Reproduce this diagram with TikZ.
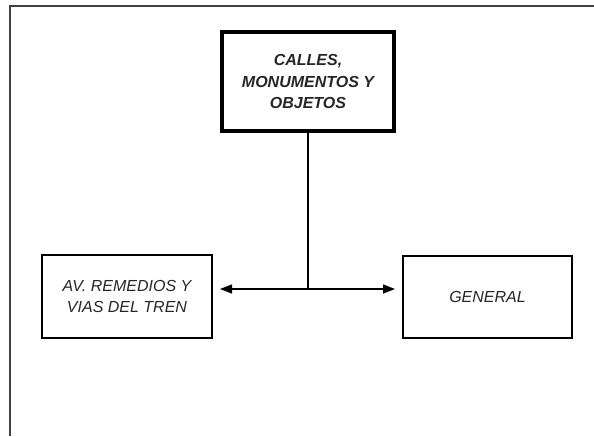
\documentclass[tikz,border=0pt]{standalone}
\usepackage{fontspec}
\setmainfont{Liberation Sans}
\usetikzlibrary{positioning,arrows.meta,calc}
\tikzset{%
  x=0.5pt, y=0.5pt,
  box/.style={draw, rectangle, align=center, text=black!85, font=\fontsize{8}{10.9}\selectfont\itshape, inner sep=0pt},
  mainbox/.style={box, line width=2pt, minimum width=86pt, minimum height=49.5pt, font=\fontsize{8}{10.9}\selectfont\bfseries\itshape},
  subbox/.style={box, line width=1pt, minimum width=85pt, minimum height=41.5pt},
  link/.style={draw, line width=0.7pt, -{Triangle[length=6pt,width=4.5pt]}, shorten >=3.5pt}
}

\begin{document}
\begin{tikzpicture}
    \useasboundingbox (0,0) rectangle (594,436);
    \draw[black!75, line width=1pt] (594,430) -- (10,430) -- (10,0); % frame

    \node[mainbox] (calles) at (308,354.5) {CALLES,\\MONUMENTOS Y\\OBJETOS};
    \node[subbox] (remedios) at (127,139.5) {AV. REMEDIOS Y\\VIAS DEL TREN};
    \node[subbox, minimum width=84.5pt, minimum height=41pt] (general) at (487.5,139) {GENERAL};

    \coordinate (split) at (calles.south |- 0,147);
    \draw[line width=0.6pt] (calles.south) -- (split);
    \draw[link] (split) -- (remedios.east |- split);
    \draw[link] (split) -- (general.west |- split);
\end{tikzpicture}
\end{document}
